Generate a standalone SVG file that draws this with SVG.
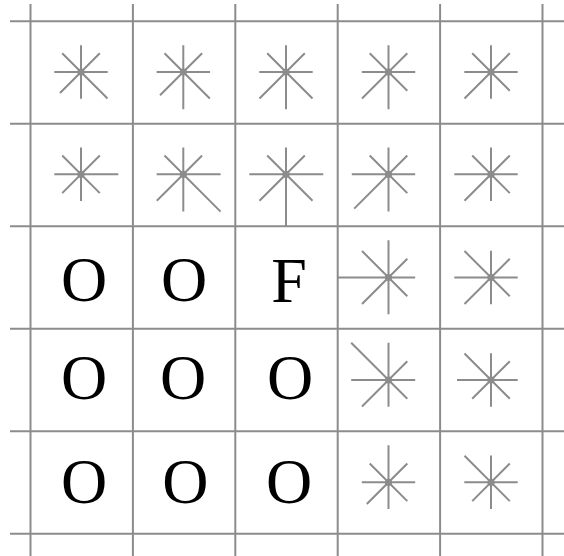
<svg xmlns="http://www.w3.org/2000/svg" width="564" height="556" viewBox="0 0 564 556">
<style>
.grid line{stroke:#8c8c8c;stroke-width:2}
.star path{stroke:#8c8c8c;stroke-width:2;fill:none}
.star circle{fill:#8c8c8c}
.lbl{font-family:'Liberation Serif',serif;font-size:64px;fill:#000;text-anchor:middle}
</style>
<rect width="564" height="556" fill="#fff"/>
<g id="grid" class="grid">
<line x1="30.5" y1="4" x2="30.5" y2="556"/>
<line x1="132.9" y1="4" x2="132.9" y2="556"/>
<line x1="235.3" y1="4" x2="235.3" y2="556"/>
<line x1="337.7" y1="4" x2="337.7" y2="556"/>
<line x1="440.1" y1="4" x2="440.1" y2="556"/>
<line x1="542.5" y1="4" x2="542.5" y2="556"/>
<line x1="10" y1="21.3" x2="564" y2="21.3"/>
<line x1="10" y1="123.8" x2="564" y2="123.8"/>
<line x1="10" y1="226.3" x2="564" y2="226.3"/>
<line x1="10" y1="328.8" x2="564" y2="328.8"/>
<line x1="10" y1="431.3" x2="564" y2="431.3"/>
<line x1="10" y1="533.8" x2="564" y2="533.8"/>
</g>
<g id="s00" class="star" transform="translate(81,72)"><path d="M-26.7 0H26.7M0-26.7V26.7M-18.8-18.8L26.5 26.5M18.8-18.8L-21 21"/><circle r="3.6"/></g>
<g id="s01" class="star" transform="translate(183.3,72)"><path d="M-26.7 0H26.7M0-26.7V37.3M-18.8-18.8L26.5 26.5M18.8-18.8L-23.3 23.3"/><circle r="3.6"/></g>
<g id="s02" class="star" transform="translate(286,72)"><path d="M-26.7 0H26.7M0-26.7V37.3M-18.8-18.8L26.5 26.5M18.8-18.8L-26.5 26.5"/><circle r="3.6"/></g>
<g id="s03" class="star" transform="translate(388.5,72)"><path d="M-26.7 0H26.7M0-26.7V37.3M-18.8-18.8L18.8 18.8M18.8-18.8L-26.5 26.5"/><circle r="3.6"/></g>
<g id="s04" class="star" transform="translate(491,72)"><path d="M-26.7 0H26.7M0-26.7V26.7M-18.8-18.8L18.8 18.8M18.8-18.8L-26.5 26.5"/><circle r="3.6"/></g>
<g id="s10" class="star" transform="translate(81,174.3)"><path d="M-26.7 0H37.3M0-26.7V26.7M-18.8-18.8L18.8 18.8M18.8-18.8L-18.8 18.8"/><circle r="3.6"/></g>
<g id="s11" class="star" transform="translate(183.3,174.3)"><path d="M-26.7 0H37.3M0-26.7V37.3M-18.8-18.8L37.3 37.3M18.8-18.8L-26.5 26.5"/><circle r="3.6"/></g>
<g id="s12" class="star" transform="translate(286,174.3)"><path d="M-36.7 0H37.3M0-26.7V52M-18.8-18.8L26.5 26.5M18.8-18.8L-26.5 26.5"/><circle r="3.6"/></g>
<g id="s13" class="star" transform="translate(388.5,174.3)"><path d="M-36.7 0H26.7M0-26.7V37.3M-18.8-18.8L18.8 18.8M18.8-18.8L-34.3 34.3"/><circle r="3.6"/></g>
<g id="s14" class="star" transform="translate(491,174.3)"><path d="M-36.7 0H26.7M0-26.7V26.7M-18.8-18.8L18.8 18.8M18.8-18.8L-26.5 26.5"/><circle r="3.6"/></g>
<g id="c20"><text class="lbl" font-family="Liberation Serif, serif" x="84" y="301">O</text></g>
<g id="c21"><text class="lbl" font-family="Liberation Serif, serif" x="184" y="301">O</text></g>
<g id="c22"><text class="lbl" font-family="Liberation Serif, serif" x="289" y="302">F</text></g>
<g id="s23" class="star" transform="translate(388.5,277.5)"><path d="M-51 0H26.7M0-37.3V36.7M-26.5-26.5L18.8 18.8M18.8-18.8L-26.5 26.5"/><circle r="3.6"/></g>
<g id="s24" class="star" transform="translate(491,277.5)"><path d="M-36.7 0H26.7M0-26.7V26.7M-26.5-26.5L18.8 18.8M18.8-18.8L-26.5 26.5"/><circle r="3.6"/></g>
<g id="c30"><text class="lbl" font-family="Liberation Serif, serif" x="84" y="398.8">O</text></g>
<g id="c31"><text class="lbl" font-family="Liberation Serif, serif" x="183" y="398.8">O</text></g>
<g id="c32"><text class="lbl" font-family="Liberation Serif, serif" x="290" y="398.8">O</text></g>
<g id="s33" class="star" transform="translate(388.5,380)"><path d="M-37.3 0H26.7M0-37.3V26.7M-37.3-37.3L18.8 18.8M18.8-18.8L-26.5 26.5"/><circle r="3.6"/></g>
<g id="s34" class="star" transform="translate(491,380)"><path d="M-34 0H26.7M0-26.7V26.7M-26.5-26.5L18.8 18.8M18.8-18.8L-18.8 18.8"/><circle r="3.6"/></g>
<g id="c40"><text class="lbl" font-family="Liberation Serif, serif" x="84" y="502.8">O</text></g>
<g id="c41"><text class="lbl" font-family="Liberation Serif, serif" x="185.3" y="502.8">O</text></g>
<g id="c42"><text class="lbl" font-family="Liberation Serif, serif" x="289" y="502.8">O</text></g>
<g id="s43" class="star" transform="translate(388.5,482.3)"><path d="M-26.7 0H26.7M0-37V26.7M-18.8-18.8L18.8 18.8M18.8-18.8L-21.7 21.7"/><circle r="3.6"/></g>
<g id="s44" class="star" transform="translate(491,482.3)"><path d="M-26.7 0H26.7M0-26.7V26.7M-26.5-26.5L18.8 18.8M18.8-18.8L-18.8 18.8"/><circle r="3.6"/></g>
</svg>
